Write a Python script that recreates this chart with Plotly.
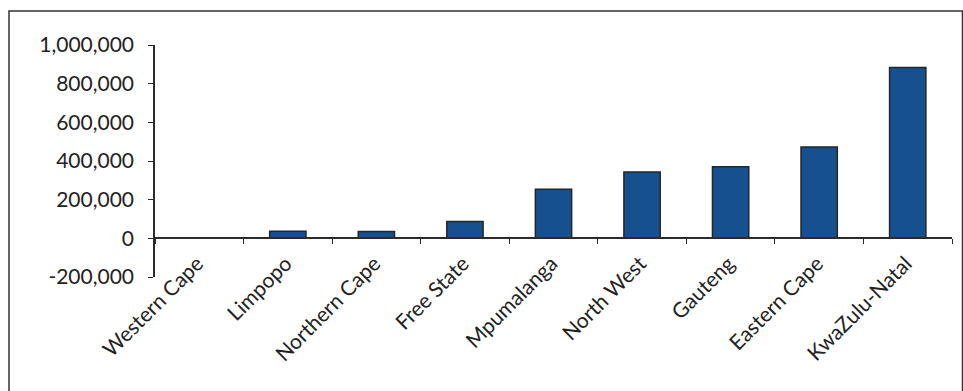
import plotly.graph_objects as go

categories = ["Western Cape", "Limpopo", "Northern Cape", "Free State", "Mpumalanga",
              "North West", "Gauteng", "Eastern Cape", "KwaZulu-Natal"]
values = [0, 36000, 35000, 87000, 254000, 343000, 370000, 473000, 884000]
y_tick_vals = [-200000, 0, 200000, 400000, 600000, 800000, 1000000]
y_tick_text = ["-200,000", "0", "200,000", "400,000", "600,000", "800,000", "1,000,000"]

W, H = 963, 391
ml, mr, mt, mb = 155, 11, 45, 113.5
pw, ph = W - ml - mr, H - mt - mb

def px_to_paper_x(px):
    return (px - ml) / pw

def px_to_paper_y(py):
    return (H - mb - py) / ph

FONT = "Lato"
AX = "#2b2b2b"

fig = go.Figure()
fig.add_trace(go.Bar(
    x=categories, y=values,
    marker=dict(color="#16508e", line=dict(color="#262626", width=1.5)),
    width=0.41,
    hoverinfo="x+y",
))

fig.update_layout(
    width=W, height=H,
    margin=dict(l=ml, r=mr, t=mt, b=mb, pad=0),
    paper_bgcolor="white", plot_bgcolor="white",
    showlegend=False,
    font=dict(family=FONT, color="#222222"),
    xaxis=dict(
        anchor="free", position=1/6,
        showline=True, linecolor=AX, linewidth=1.5,
        ticks="outside", ticklen=5, tickwidth=1.3, tickcolor=AX,
        tickson="boundaries",
        tickangle=-45, tickfont=dict(size=21, family=FONT, color="#222222"),
        ticklabelshift=-2, ticklabelstandoff=4,
        showgrid=False, zeroline=False,
    ),
    yaxis=dict(
        range=[-200000, 1000000],
        tickvals=y_tick_vals, ticktext=y_tick_text,
        showline=True, linecolor=AX, linewidth=1.5,
        ticks="outside", ticklen=5, tickwidth=1.3, tickcolor=AX,
        tickfont=dict(size=21, family=FONT, color="#222222"),
        ticklabelstandoff=10,
        showgrid=False, zeroline=False,
    ),
    shapes=[
        dict(type="rect", xref="paper", yref="paper",
             x0=px_to_paper_x(9), x1=px_to_paper_x(962.5),
             y0=px_to_paper_y(420), y1=px_to_paper_y(11),
             line=dict(color="#333333", width=1.5), fillcolor="rgba(0,0,0,0)",
             layer="below"),
    ],
)

fig.write_html("out.html")
